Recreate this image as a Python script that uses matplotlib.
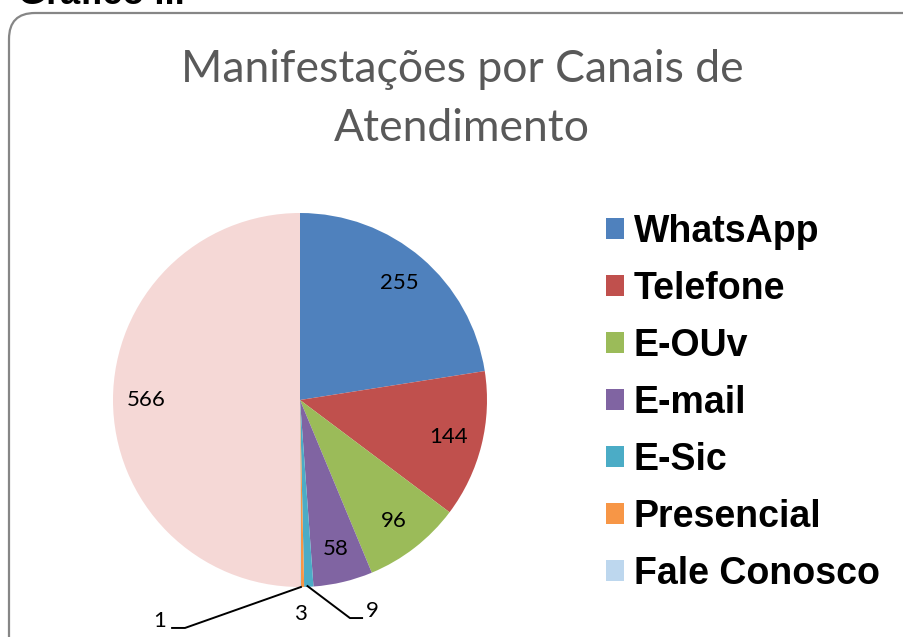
import matplotlib
matplotlib.use("Agg")
import matplotlib.pyplot as plt
import matplotlib.patches as patches
import numpy as np

# data
categories = ["WhatsApp", "Telefone", "E-OUv", "E-mail", "E-Sic", "Presencial",
              "Fale Conosco", "Outros"]
values = [255, 144, 96, 58, 9, 3, 1, 566]
colors = ["#4F81BD", "#C0504D", "#9BBB59", "#8064A2", "#4BACC6", "#F79646",
          "#BDD7EE", "#F5D8D6"]
legend_count = 7  # the last slice is not listed in the legend

title = "Manifestações por Canais de\nAtendimento"

W, H = 904, 637
fig = plt.figure(figsize=(W / 100, H / 100), dpi=100)
fig.patch.set_facecolor("white")

# background layer in pixel units (frame + cut-off heading)
bg = fig.add_axes([0, 0, 1, 1])
bg.set_xlim(0, W)
bg.set_ylim(H, 0)
bg.axis("off")
frame = patches.FancyBboxPatch((9, 13), 1000, 800,
                               boxstyle="round,pad=0,rounding_size=26",
                               facecolor="white", edgecolor="#868686", linewidth=1.6)
bg.add_patch(frame)
bg.text(18, 4, "Gráfico ...", fontsize=26, fontweight="bold", family="Liberation Sans",
        color="black", va="baseline", ha="left")
bg.text(462, 99, title, fontsize=32, color="#595959", family="Lato",
        ha="center", va="center", linespacing=1.56)

# pie axes: center (300, 400) px, radius 187 px
r = 187
cx, cy = 300, 400
ax = fig.add_axes([(cx - r) / W, (H - cy - r) / H, 2 * r / W, 2 * r / H])
wedges, _ = ax.pie(values, colors=colors, startangle=90, counterclock=False,
                   wedgeprops=dict(linewidth=0))
ax.set_xlim(-1, 1)
ax.set_ylim(-1, 1)
ax.set_aspect("auto")
ax.axis("off")

label_font = dict(fontsize=16, family="Lato", color="black")
# thin slices get their label outside, some with a leader line
small = {4: ((0.385, -1.13), [(0.04, -0.995), (0.267, -1.166), (0.332, -1.166)]),
         5: ((0.0, -1.145), None),
         6: ((-0.75, -1.18), [(0.005, -1.0), (-0.615, -1.219), (-0.684, -1.219)])}
for i, (w, v) in enumerate(zip(wedges, values)):
    if i in small:
        pos, line = small[i]
        ax.text(pos[0], pos[1], str(v), ha="center", va="center", clip_on=False, **label_font)
        if line:
            xs, ys = zip(*line)
            ax.plot(xs, ys, color="black", lw=1.4, clip_on=False)
        continue
    mid = np.deg2rad((w.theta1 + w.theta2) / 2)
    ax.text(0.82 * np.cos(mid), 0.82 * np.sin(mid), str(v), ha="center", va="center",
            **label_font)

leg = fig.legend(wedges[:legend_count], categories[:legend_count],
                 loc="upper left", bbox_to_anchor=(587 / W, 1 - 195 / H),
                 frameon=False, borderpad=0, handlelength=0.5, handleheight=0.5,
                 handletextpad=0.25, labelspacing=0.56,
                 prop=dict(family="Liberation Sans", weight="bold", size=27))

fig.savefig("out.png", dpi=100)
